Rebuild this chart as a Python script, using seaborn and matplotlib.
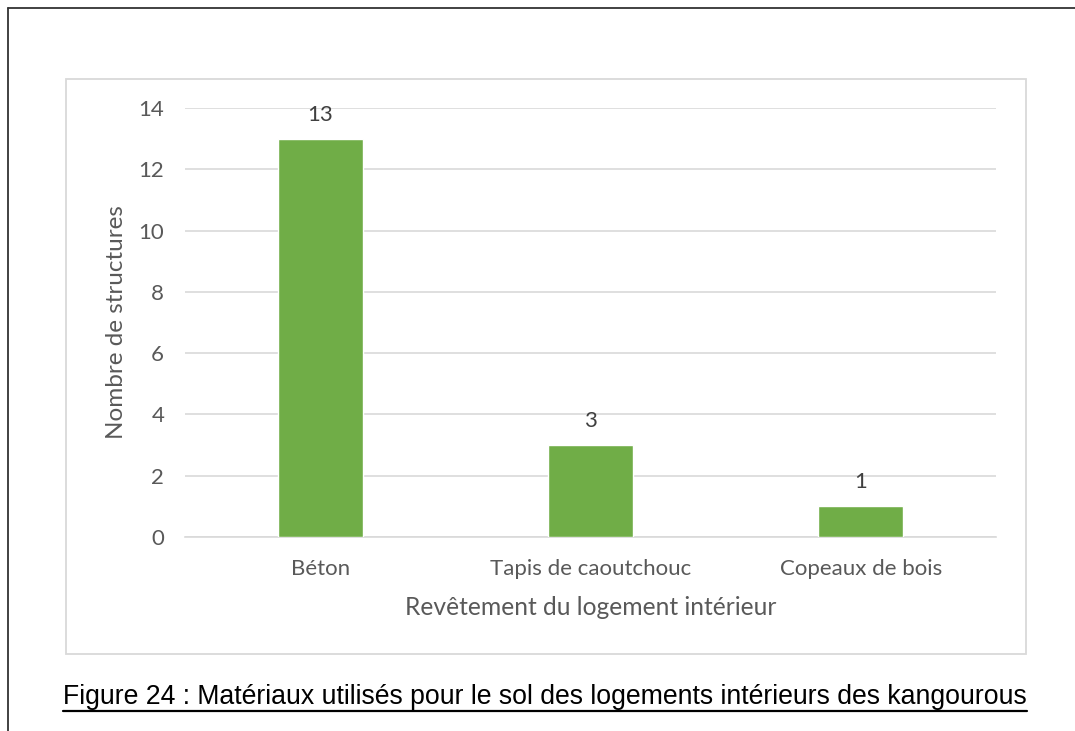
import matplotlib
matplotlib.use('Agg')
import matplotlib.pyplot as plt
import seaborn as sns
from matplotlib.lines import Line2D
from matplotlib.patches import Rectangle

categories = ['Béton', 'Tapis de caoutchouc', 'Copeaux de bois']
values = [13, 3, 1]
yticks = [0, 2, 4, 6, 8, 10, 12, 14]

sns.set_theme(style='white')
plt.rcParams['font.family'] = ['Lato', 'DejaVu Sans']

W, H = 1075, 731
fig = plt.figure(figsize=(W / 100, H / 100), dpi=100)
fig.patch.set_facecolor('white')

# outer frame: only top and left lines
fig.add_artist(Line2D([8 / W, 8 / W], [0, 1 - 8 / H], color='#333333', lw=1.3))
fig.add_artist(Line2D([8 / W, 1], [1 - 8 / H, 1 - 8 / H], color='#333333', lw=1.3))

# chart area box
fig.add_artist(Rectangle((66 / W, 1 - 654 / H), (1026 - 66) / W, (654 - 79) / H,
                         fill=False, edgecolor='#d9d9d9', lw=1.3))

ax = fig.add_axes([185 / W, 1 - 537 / H, (996 - 185) / W, (537 - 108) / H])
sns.barplot(x=categories, y=values, color='#70ad47', saturation=1, width=0.315, ax=ax, zorder=3)

ax.set_ylim(0, 14)
ax.set_xlim(-0.5, 2.5)
ax.set_yticks(yticks)
ax.yaxis.grid(True, color='#d9d9d9', lw=1.2, zorder=0)
ax.set_axisbelow(True)
for s in ['top', 'right', 'left']:
    ax.spines[s].set_visible(False)
ax.spines['bottom'].set_color('#d9d9d9')
ax.spines['bottom'].set_linewidth(1.2)
ax.tick_params(axis='both', length=0, labelsize=16, labelcolor='#595959')
ax.tick_params(axis='y', pad=15)
ax.tick_params(axis='x', pad=16)

for i, v in enumerate(values):
    ax.annotate(str(v), (i, v), xytext=(0, 10), textcoords='offset points',
                ha='center', va='bottom', fontsize=16, color='#404040')

ax.set_xlabel('Revêtement du logement intérieur', fontsize=17.7, color='#595959', labelpad=12)
ax.set_ylabel('Nombre de structures', fontsize=17.5, color='#595959', labelpad=8)

# caption, underlined
cap = fig.text(545 / W, 1 - 697 / H, 'Figure 24 : Matériaux utilisés pour le sol des logements intérieurs des kangourous',
               ha='center', va='center', fontsize=19.2, color='black', family='Liberation Sans')
fig.canvas.draw()
bb = cap.get_window_extent(fig.canvas.get_renderer())
uy = (bb.y0 - 1) / H
fig.add_artist(Line2D([bb.x0 / W, bb.x1 / W], [uy, uy], color='black', lw=1.6))

fig.savefig('out.png', dpi=100, facecolor='white')
